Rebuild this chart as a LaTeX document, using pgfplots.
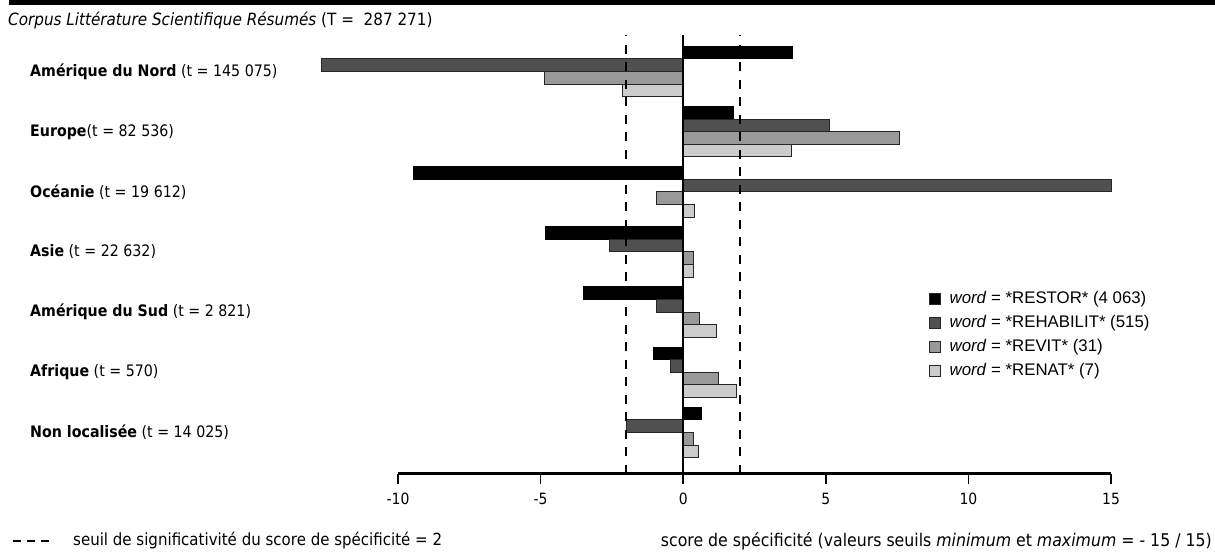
\documentclass[border=0pt]{standalone}
\usepackage{fontspec}
\usepackage{pgfplots}
\usepackage{pgfplotstable}
\pgfplotsset{compat=1.18}
\setmainfont{DejaVu Sans}[FakeStretch=0.9]
\newfontfamily\legfont{Liberation Sans}
\definecolor{cA}{HTML}{000000}
\definecolor{cB}{HTML}{505050}
\definecolor{cC}{HTML}{999999}
\definecolor{cD}{HTML}{CCCCCC}
\pgfplotstableread{
y restor rehab revit renat
6 3.84 -12.69 -4.88 -2.14
5 1.75 5.13 7.59 3.81
4 -9.45 15.0 -0.95 0.41
3 -4.82 -2.60 0.35 0.35
2 -3.49 -0.94 0.58 1.17
1 -1.03 -0.44 1.23 1.86
0 0.65 -1.99 0.35 0.53
}\data
\pgfplotsset{
  mybar/.style 2 args={xbar, bar width=12.6bp, bar shift=#2, fill=#1,
    draw=black!85, line width=1bp,
    legend image code/.code={\draw[fill=#1, draw=black!85, line width=1bp] (0bp,-5.5bp) rectangle (11bp,5.5bp); \path[draw=none,fill=none] (0bp,0bp) -- (20bp,0bp);}},
}
\begin{document}
\begin{tikzpicture}[x=1bp,y=1bp]
\useasboundingbox (0,0) rectangle (1215,554);
\draw[line width=5bp] (9,551) -- (1215,551);
\node[anchor=base west, inner sep=0] at (8,528) {\fontsize{16.9bp}{20bp}\selectfont\textit{Corpus Littérature Scientifique Résumés} (T =~ 287 271)};
\begin{axis}[
  at={(398bp,80bp)}, anchor=south west, scale only axis,
  width=713bp, height=439bp,
  xmin=-10, xmax=15, ymin=-0.69, ymax=6.607,
  axis x line*=bottom, axis y line*=left,
  x axis line style={line width=3bp},
  y axis line style={draw=none},
  xtick={-10,-5,0,5,10,15},
  xticklabels={-10,-5,0,5,10,15},
  xtick style={line width=1.5bp, black},
  tick align=outside, major tick length=10bp,
  xticklabel style={font=\fontsize{15.5bp}{18bp}\selectfont, inner sep=0pt, yshift=-9bp},
  ytick={0,...,6},
  ytick style={draw=none},
  yticklabels={
    {\textbf{Non localisée} (t = 14 025)},
    {\textbf{Afrique} (t = 570)},
    {\textbf{Amérique du Sud} (t = 2 821)},
    {\textbf{Asie} (t = 22 632)},
    {\textbf{Océanie} (t = 19 612)},
    {\textbf{Europe}(t = 82 536)},
    {\textbf{Amérique du Nord} (t = 145 075)}},
  yticklabel style={anchor=west, inner sep=0pt, xshift=-358bp, font=\fontsize{15.8bp}{18bp}\selectfont},
  legend style={at={(0.7405,0.4190)}, anchor=north west, draw=none, fill=none,
    font=\legfont\fontsize{16.8bp}{18bp}\selectfont, row sep=9.3bp,
    nodes={inner sep=0pt, text height=11.5bp, text depth=3bp}},
  legend cell align=left,
  clip=false,
]
\addplot[mybar={cA}{18.9bp}, draw=black] table[x=restor, y=y] {\data};
\addlegendentry{\textit{word} = *RESTOR* (4 063)}
\addplot[mybar={cB}{6.3bp}] table[x=rehab, y=y] {\data};
\addlegendentry{\textit{word} = *REHABILIT* (515)}
\addplot[mybar={cC}{-6.3bp}] table[x=revit, y=y] {\data};
\addlegendentry{\textit{word} = *REVIT* (31)}
\addplot[mybar={cD}{-18.9bp}] table[x=renat, y=y] {\data};
\addlegendentry{\textit{word} = *RENAT* (7)}
\addplot[forget plot, line width=2bp, dash pattern=on 9bp off 8.5bp] coordinates {(-2,-0.69) (-2,6.607)};
\addplot[forget plot, line width=2bp, dash pattern=on 9bp off 8.5bp] coordinates {(2,-0.69) (2,6.607)};
\addplot[forget plot, line width=2bp] coordinates {(0,-0.69) (0,6.607)};
\end{axis}
\draw[line width=2bp, dash pattern=on 8bp off 6bp] (13,13) -- (50,13);
\node[anchor=west, inner sep=0] at (73,13) {\fontsize{16.7bp}{20bp}\selectfont seuil de significativité du score de spécificité = 2};
\node[anchor=east, inner sep=0] at (1212,13) {\fontsize{17.5bp}{20bp}\selectfont score de spécificité (valeurs seuils \textit{minimum} et \textit{maximum} = - 15 / 15)};
\end{tikzpicture}
\end{document}
